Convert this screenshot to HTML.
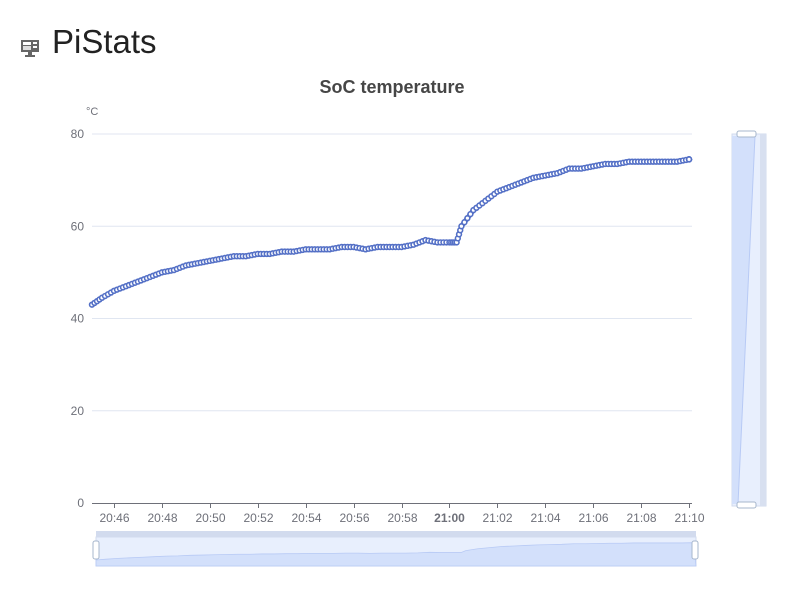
<!DOCTYPE html>
<html><head><meta charset="utf-8"><style>
body{margin:0;width:786px;height:593px;background:#fff;font-family:"Liberation Sans",sans-serif;overflow:hidden;position:relative}
h1{position:absolute;left:52px;top:23px;margin:0;font-weight:normal;font-size:33px;color:#222}
</style></head><body>
<svg style="position:absolute;left:19px;top:38px" width="22" height="20" viewBox="0 0 22 20"><rect x="2" y="2" width="18" height="12" fill="#666"/><rect x="4" y="4" width="8" height="3" fill="#fff"/><rect x="4" y="8" width="8" height="4" fill="#ddd"/><rect x="14" y="4" width="4" height="2" fill="#fff"/><rect x="14" y="8" width="4" height="2" fill="#fff"/><rect x="9" y="14" width="4" height="3" fill="#666"/><rect x="6" y="17" width="10" height="2" fill="#666"/></svg>
<h1>PiStats</h1>
<svg id="c" width="786" height="593" style="position:absolute;left:0;top:0"><defs><clipPath id="pc"><rect x="88" y="120" width="607" height="390"/></clipPath></defs></svg>
<script>
const ticksY=[0,20,40,60,80];
const tickLabelsX=["20:46","20:48","20:50","20:52","20:54","20:56","20:58","21:00","21:02","21:04","21:06","21:08","21:10"];
const tickMinutesX=[1,3,5,7,9,11,13,15,17,19,21,23,25];
const times=[0,0.5,1,1.5,2,2.5,3,3.5,4,4.5,5,5.5,6,6.5,7,7.5,8,8.5,9,9.5,10,10.5,11,11.5,12,12.5,13,13.5,14,14.5,15,15.3,15.5,16,16.5,17,17.5,18,18.5,19,19.5,20,20.5,21,21.5,22,22.5,23,23.5,24,24.5,25];
const temps=[43,44.5,46,47,48,49,50,50.5,51.5,52,52.5,53,53.5,53.5,54,54,54.5,54.5,55,55,55,55.5,55.5,55,55.5,55.5,55.5,56,57,56.5,56.5,56.5,60,63.5,65.5,67.5,68.5,69.5,70.5,71,71.5,72.5,72.5,73,73.5,73.5,74,74,74,74,74,74.5];
const NS="http://www.w3.org/2000/svg",svg=document.getElementById('c');
const X=t=>114+(t-1)*23.96, Y=v=>503-v*4.6125;
function mk(tag,a,txt,parent){const e=document.createElementNS(NS,tag);for(const k in a)e.setAttribute(k,a[k]);if(txt!=null)e.textContent=txt;(parent||svg).appendChild(e);return e;}
let e=mk('text',{x:392,y:93,'text-anchor':'middle','font-size':18,'font-weight':'bold',fill:'#464646'},'SoC temperature');


e=mk('text',{x:86,y:115,'font-size':11,fill:'#6e7079'},'°C');


ticksY.forEach(v=>{
 if(v>0){e=mk('line',{x1:92,x2:692,y1:Y(v),y2:Y(v),stroke:'#e0e6f1'});}
 e=mk('text',{x:84,y:Y(v)+4,'text-anchor':'end','font-size':12,fill:'#6e7079'},v);
 
 
});
e=mk('line',{x1:92,x2:692,y1:503.5,y2:503.5,stroke:'#6e7079'});


tickMinutesX.forEach((m,i)=>{
 const x=Math.round(X(m))+0.5;
 e=mk('line',{x1:x,x2:x,y1:503,y2:508,stroke:'#6e7079'});
 
 
 e=mk('text',{x:x,y:522,'text-anchor':'middle','font-size':12,fill:'#6e7079','font-weight':tickLabelsX[i]=='21:00'?'bold':'normal'},tickLabelsX[i]);
 
 
});
const g=mk('g',{'clip-path':'url(#pc)'});
const pts=times.map((t,i)=>[X(Math.max(t,0.08)),Y(temps[i])]);
e=mk('polyline',{points:pts.map(p=>p.join(',')).join(' '),fill:'none',stroke:'#5470c6','stroke-width':5},null,g);


pts.forEach((p,i)=>{
 const q=pts[Math.min(i+1,pts.length-1)];
 for(let k=0;k<4;k++){
  const f=k/4;
  const cx=p[0]+(q[0]-p[0])*f, cy=p[1]+(q[1]-p[1])*f;
  if(cx>692.5)continue;
  e=mk('circle',{cx:cx,cy:cy,r:2.4,fill:'#fff',stroke:'#5470c6','stroke-width':1.6},null,g);
  
  
 }
});
// bottom zoom slider
e=mk('rect',{x:96,y:531,width:600,height:6,fill:'#d2dbee'});


e=mk('rect',{x:96,y:537,width:600,height:29,fill:'#e8effd',stroke:'#d2dbee'});


const sx=t=>96+(t-0.08)*(600/25.02), sy=v=>560-(v-43)*0.55;
const sp=times.map((t,i)=>sx(Math.max(t,0.08))+','+sy(temps[i]));
e=mk('polygon',{points:'96,566 '+sp.join(' ')+' 696,566',fill:'#d3e0fb',stroke:'#b8caf5','stroke-width':0.8});


[93,692].forEach(x=>{e=mk('rect',{x:x,y:541,width:6,height:18,rx:2,fill:'#fff',stroke:'#a7b7cc'});});
// right zoom slider
e=mk('rect',{x:732,y:134,width:34,height:372,fill:'#e8effd',stroke:'#d2dbee'});


e=mk('rect',{x:760,y:134,width:6,height:372,fill:'#d8e0f0'});


e=mk('polygon',{points:'732,136 755,136 738,504 732,504',fill:'#d3e0fb'});


e=mk('line',{x1:755,y1:136,x2:738,y2:504,stroke:'#b8caf5'});


[131,502].forEach(y=>{e=mk('rect',{x:737,y:y,width:19,height:6,rx:2,fill:'#fff',stroke:'#a7b7cc'});});
</script>
</body></html>
